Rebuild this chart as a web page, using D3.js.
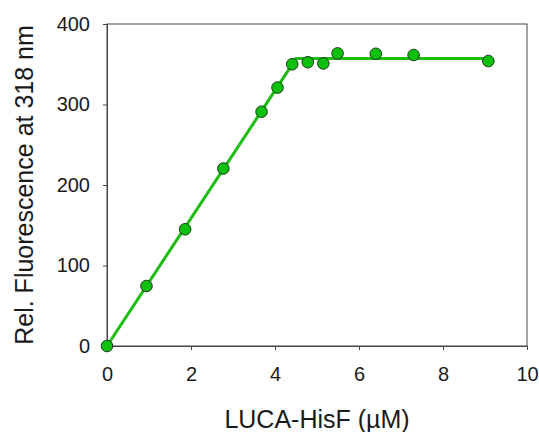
<!DOCTYPE html>
<html>
<head>
<meta charset="utf-8">
<script src="https://cdn.jsdelivr.net/npm/d3@7"></script>
<style>
  html, body { margin: 0; padding: 0; background: #fff; }
  svg { display: block; font-family: Arial, "Liberation Sans", sans-serif; }
</style>
</head>
<body>
<svg id="chart" width="539" height="432"></svg>
<script>
// Titration: measured fluorescence vs. protein concentration
const concentration = [0, 0.94, 1.86, 2.77, 3.68, 4.06, 4.41, 4.78, 5.15, 5.49, 6.40, 7.30, 9.08];
const fluorescence  = [0, 74.5, 145, 220.5, 291, 321, 350, 352.5, 351, 363.5, 363, 361.5, 354];

// Two-segment fit: linear rise, then plateau
const fitX = [0, 4.5, 9.08];
const fitY = [0, 357, 357];

const xTicks = [0, 2, 4, 6, 8, 10];
const yTicks = [0, 100, 200, 300, 400];

const svg = d3.select("#chart");
const margin = { left: 107, right: 12, top: 24, bottom: 86 };
const W = 539, H = 432;

const x = d3.scaleLinear().domain([0, 10]).range([margin.left, W - margin.right]);
const y = d3.scaleLinear().domain([0, 400]).range([H - margin.bottom, margin.top]);

const axisColor = "#444";
const textColor = "#1a1a1a";

// Frame
svg.append("rect")
  .attr("x", x(0)).attr("y", y(400))
  .attr("width", x(10) - x(0)).attr("height", y(0) - y(400))
  .attr("fill", "none").attr("stroke", axisColor).attr("stroke-width", 1);

// Axes
const xAxis = svg.append("g")
  .attr("transform", `translate(0,${y(0)})`)
  .call(d3.axisBottom(x).tickValues(xTicks).tickSize(4).tickPadding(17).tickFormat(d3.format("d")));
const yAxis = svg.append("g")
  .attr("transform", `translate(${x(0)},0)`)
  .call(d3.axisLeft(y).tickValues(yTicks).tickSize(4).tickPadding(13).tickFormat(d3.format("d")));

[xAxis, yAxis].forEach(g => {
  g.select(".domain").attr("stroke", axisColor);
  g.selectAll(".tick line").attr("stroke", axisColor);
  g.selectAll(".tick text").attr("fill", textColor).style("font-size", "20px")
    .style("font-family", "Arial, 'Liberation Sans', sans-serif");
});

// Fit line
svg.append("path")
  .datum(fitX.map((d, i) => [d, fitY[i]]))
  .attr("fill", "none")
  .attr("stroke", "#1cbc12")
  .attr("stroke-width", 3)
  .attr("d", d3.line().x(d => x(d[0])).y(d => y(d[1])));

// Data points
svg.append("g").selectAll("circle")
  .data(concentration.map((d, i) => [d, fluorescence[i]]))
  .join("circle")
  .attr("cx", d => x(d[0]))
  .attr("cy", d => y(d[1]))
  .attr("r", 5.8)
  .attr("fill", "#0cc00c")
  .attr("stroke", "#1d3a1d")
  .attr("stroke-width", 1);

// Axis titles
svg.append("text")
  .attr("x", (x(0) + x(10)) / 2)
  .attr("y", 428)
  .attr("text-anchor", "middle")
  .attr("fill", textColor)
  .style("font-size", "25px")
  .text("LUCA-HisF (µM)");

svg.append("text")
  .attr("transform", `translate(33,${(y(0) + y(400)) / 2}) rotate(-90)`)
  .attr("text-anchor", "middle")
  .attr("fill", textColor)
  .style("font-size", "25px")
  .text("Rel. Fluorescence at 318 nm");
</script>
</body>
</html>
